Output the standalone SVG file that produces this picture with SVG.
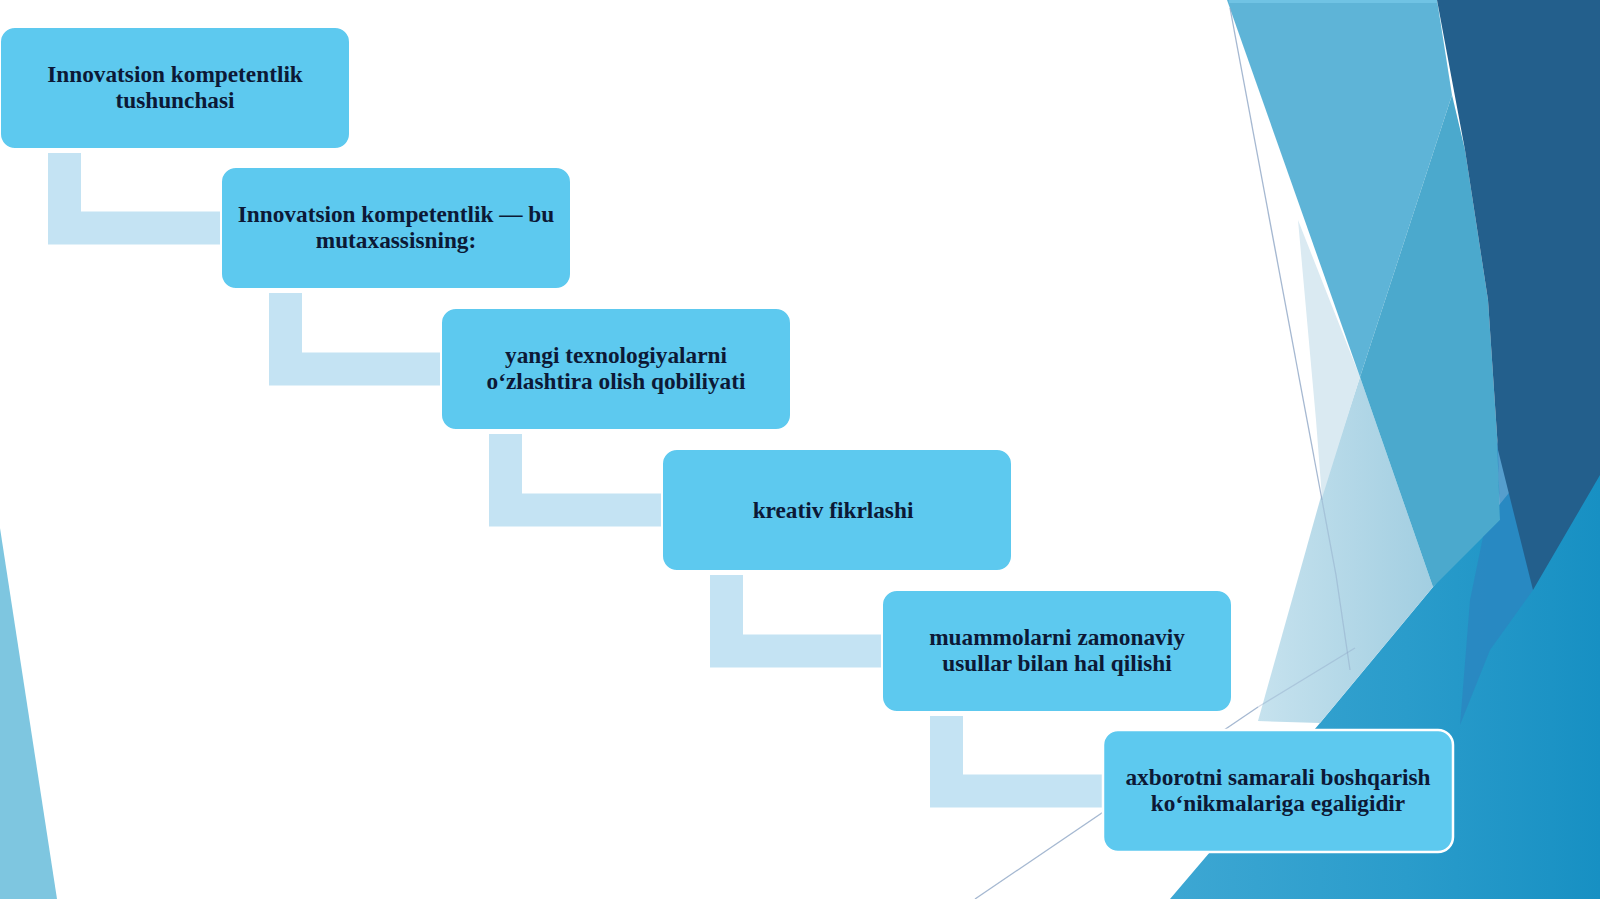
<svg xmlns="http://www.w3.org/2000/svg" width="1600" height="899" viewBox="0 0 1600 899">
<defs>
<linearGradient id="gBase" x1="0" y1="0" x2="1" y2="0">
<stop offset="0" stop-color="#3DA7D3"/>
<stop offset="0.55" stop-color="#2A9CCB"/>
<stop offset="1" stop-color="#1790C3"/>
</linearGradient>
<linearGradient id="gPale" x1="0" y1="0" x2="1" y2="0">
<stop offset="0" stop-color="#C6E2EE"/>
<stop offset="1" stop-color="#A2CEE1"/>
</linearGradient>
<style>
.node rect{fill:#5DC9EF;stroke:#FFFFFF;stroke-width:2}
.node text{font-family:"Liberation Serif","Times New Roman",serif;font-weight:bold;font-size:23.3px;fill:#0C1936;text-anchor:middle}
.conn{fill:#C4E3F3}
.thin{fill:none;stroke:#8EA6C6;stroke-width:1.3;opacity:0.8}
</style>
</defs>
<rect x="0" y="0" width="1600" height="899" fill="#FFFFFF"/>
<g id="background">
<polygon points="0,528 57,899 0,899" fill="#7EC6E0"/>
<polygon points="1170,899 1320,723 1433,587 1600,380 1600,899" fill="url(#gBase)"/>
<polygon points="1360,377 1433,587 1320,723 1258,721 1320,500" fill="url(#gPale)"/>
<polygon points="1298,220 1360,377 1322,498 1316,420" fill="#DAEAF2"/>
<polygon points="1227,0 1437,0 1452,95 1360,377" fill="#5EB4D7"/>
<rect x="1229" y="0" width="208" height="3" fill="#70C3E4"/>
<polygon points="1452,95 1465,150 1488,300 1498,450 1500,520 1483,537 1433,587 1360,377" fill="#4BA9CD"/>
<polygon points="1497,440 1533,590 1490,650 1460,725 1470,600 1483,537 1500,520" fill="#2A86C0" opacity="0.8"/>
<polygon points="1437,0 1600,0 1600,475 1533,590 1498,450 1488,300 1465,150" fill="#235F8C"/>
<polyline class="thin" points="1230,8 1322,500"/>
<polyline class="thin" points="1322,500 1336,575 1350,670" style="opacity:0.45"/>
<polyline class="thin" points="975,899 1258,707"/>
<polyline class="thin" points="1258,707 1355,648" style="opacity:0.4"/>
</g>
<g id="connectors">
<path class="conn" d="M48,153 H81 V211.5 H221 V244.5 H48 Z"/>
<path class="conn" d="M269,293 H302 V352.5 H441 V385.5 H269 Z"/>
<path class="conn" d="M489,434 H522 V493.5 H662 V526.5 H489 Z"/>
<path class="conn" d="M710,575 H743 V634.5 H882 V667.5 H710 Z"/>
<path class="conn" d="M930,716 H963 V774.5 H1103 V807.5 H930 Z"/>
</g>
<g id="node1" class="node">
<rect x="0" y="27" width="350" height="122" rx="15"/>
<text x="175" y="82">Innovatsion kompetentlik</text>
<text x="175" y="107.5">tushunchasi</text>
</g>
<g id="node2" class="node">
<rect x="221" y="167" width="350" height="122" rx="15"/>
<text x="396" y="222">Innovatsion kompetentlik — bu</text>
<text x="396" y="247.5">mutaxassisning:</text>
</g>
<g id="node3" class="node">
<rect x="441" y="308" width="350" height="122" rx="15"/>
<text x="616" y="363">yangi texnologiyalarni</text>
<text x="616" y="388.5">o‘zlashtira olish qobiliyati</text>
</g>
<g id="node4" class="node">
<rect x="662" y="449" width="350" height="122" rx="15"/>
<text x="833" y="518">kreativ fikrlashi</text>
</g>
<g id="node5" class="node">
<rect x="882" y="590" width="350" height="122" rx="15"/>
<text x="1057" y="645">muammolarni zamonaviy</text>
<text x="1057" y="670.5">usullar bilan hal qilishi</text>
</g>
<g id="node6" class="node">
<rect x="1103" y="730" width="350" height="122" rx="15" style="stroke-width:2.5"/>
<text x="1278" y="785">axborotni samarali boshqarish</text>
<text x="1278" y="810.5">ko‘nikmalariga egaligidir</text>
</g>
</svg>
